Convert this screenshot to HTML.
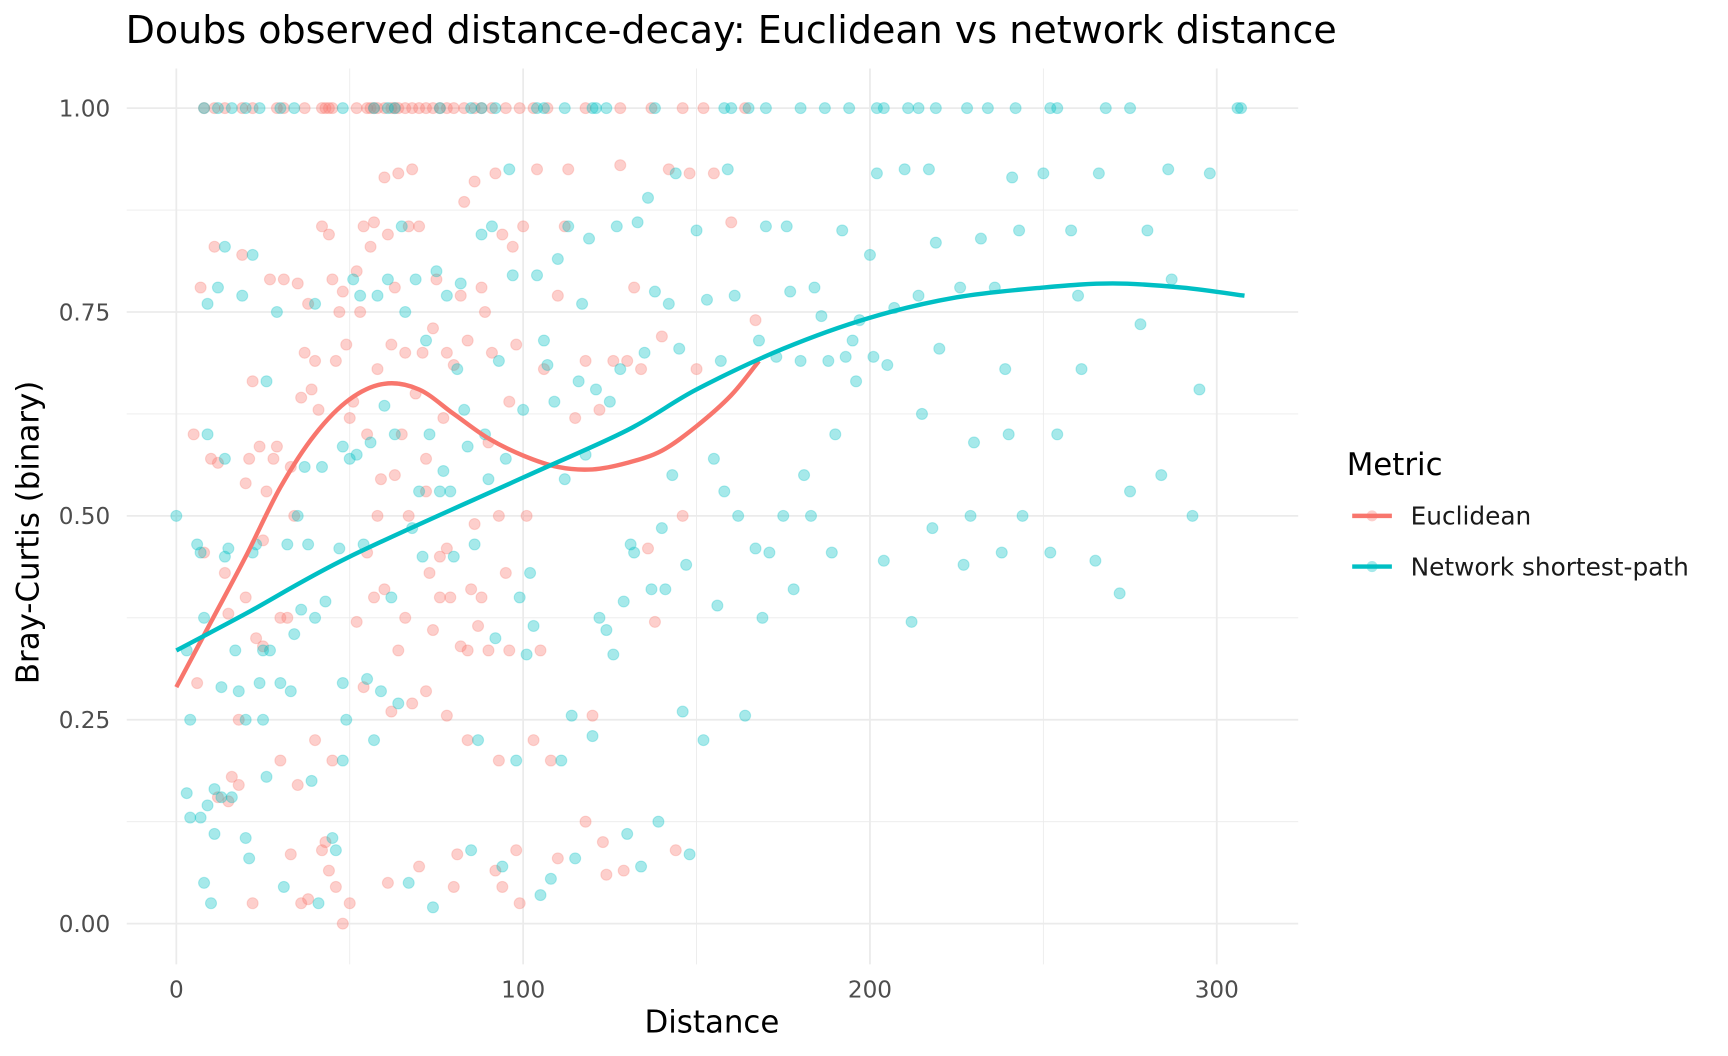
<!DOCTYPE html>
<html><head><meta charset="utf-8"><style>
html,body{margin:0;padding:0;background:#fff;}
svg{display:block;font-family:"DejaVu Sans","Liberation Sans",sans-serif;}
</style></head><body>
<svg id="chart" width="1728" height="1056" viewBox="0 0 1568 958" xmlns="http://www.w3.org/2000/svg">
<rect width="1568" height="958" fill="#fff"/>
<text x="114" y="39" font-size="34.5" fill="#000">Doubs observed distance-decay: Euclidean vs network distance</text>
<g id="grid"></g>
<g id="yticks"></g>
<g id="xticks"></g>
<g id="pts"></g>
<g id="lines"></g>
<text x="646" y="937" font-size="28" text-anchor="middle" fill="#000">Distance</text>
<text transform="translate(35,483) rotate(-90)" font-size="28" text-anchor="middle" fill="#000">Bray-Curtis (binary)</text>
<g>
<text x="1222" y="431" font-size="28" fill="#000">Metric</text>
<g>
<line x1="1227" y1="468" x2="1263" y2="468" stroke="#F8766D" stroke-width="4"/>
<circle cx="1245" cy="468" r="5" fill="#F8766D" opacity="0.35"/>
<text x="1280" y="476" font-size="22.5" fill="#1a1a1a">Euclidean</text></g>
<g>
<line x1="1227" y1="514" x2="1263" y2="514" stroke="#00BFC4" stroke-width="4"/>
<circle cx="1245" cy="514" r="5" fill="#00BFC4" opacity="0.35"/>
<text x="1280" y="522" font-size="22.5" fill="#1a1a1a">Network shortest-path</text></g>
</g>
</svg>
<script>
const xTicks=[0,100,200,300];
const yTicks=[0,0.25,0.5,0.75,1.0];
const yTickLabels=["0.00","0.25","0.50","0.75","1.00"];
const eucOnes=[8,11,14,19,22,29,31,37,42,43,44,45,52,55,56,57,58,60,62,63,64,66,68,70,72,74,76,78,80,83,86,88,91,95,99,103,107,118,128,137,146,152,164];
const netOnes=[8,12,16,20,24,30,34,48,57,61,63,76,85,88,92,104,106,112,120,121,124,138,158,160,165,170,180,187,194,202,204,211,214,219,228,234,242,252,254,268,275,306,307];
const eucPts=[[5,0.6],[7,0.78],[8,0.455],[10,0.57],[11,0.83],[12,0.565],[14,0.43],[15,0.38],[16,0.18],[18,0.25],[19,0.82],[20,0.54],[21,0.57],[22,0.665],[23,0.35],[24,0.585],[25,0.47],[26,0.53],[27,0.79],[28,0.57],[29,0.585],[30,0.2],[31,0.79],[32,0.375],[33,0.56],[34,0.5],[35,0.785],[36,0.645],[37,0.7],[38,0.76],[39,0.655],[40,0.69],[41,0.63],[42,0.855],[43,0.1],[44,0.845],[45,0.79],[46,0.69],[47,0.75],[48,0.775],[49,0.71],[50,0.62],[51,0.64],[52,0.8],[53,0.75],[54,0.855],[55,0.6],[56,0.83],[57,0.86],[58,0.68],[59,0.545],[60,0.915],[61,0.845],[62,0.71],[63,0.78],[64,0.92],[65,0.6],[66,0.7],[67,0.855],[68,0.925],[69,0.65],[70,0.855],[71,0.7],[72,0.57],[73,0.43],[74,0.73],[75,0.79],[76,0.45],[77,0.62],[78,0.7],[79,0.4],[80,0.685],[81,0.085],[82,0.77],[83,0.885],[84,0.715],[85,0.41],[86,0.91],[87,0.365],[88,0.78],[89,0.75],[90,0.59],[91,0.7],[92,0.92],[93,0.2],[94,0.845],[95,0.43],[96,0.64],[97,0.83],[98,0.71],[99,0.025],[100,0.855],[101,0.5],[103,0.225],[104,0.925],[106,0.68],[108,0.2],[110,0.77],[112,0.855],[113,0.925],[115,0.62],[118,0.69],[120,0.255],[122,0.63],[124,0.06],[126,0.69],[128,0.93],[130,0.69],[132,0.78],[134,0.68],[136,0.46],[138,0.37],[140,0.72],[142,0.925],[144,0.09],[146,0.5],[148,0.92],[150,0.68],[155,0.92],[160,0.86],[167,0.74],
[6,0.295],[12,0.155],[15,0.15],[18,0.17],[20,0.4],[22,0.025],[25,0.34],[30,0.375],[33,0.085],[35,0.17],[36,0.025],[38,0.03],[40,0.225],[42,0.09],[44,0.065],[45,0.2],[46,0.045],[48,0.0],[50,0.025],[52,0.37],[54,0.29],[55,0.455],[57,0.4],[60,0.41],[61,0.05],[62,0.26],[64,0.335],[66,0.375],[68,0.27],[70,0.07],[72,0.285],[74,0.36],[76,0.4],[78,0.255],[80,0.045],[82,0.34],[84,0.225],[86,0.49],[88,0.4],[90,0.335],[92,0.065],[94,0.045],[96,0.335],[98,0.09],[58,0.5],[63,0.55],[67,0.5],[72,0.53],[78,0.46],[84,0.335],[93,0.5],[105,0.335],[110,0.08],[118,0.125],[123,0.1],[129,0.065]];
const netPts=[[0,0.5],[3,0.16],[3,0.335],[4,0.13],[4,0.25],[6,0.465],[7,0.13],[7,0.455],[8,0.05],[8,0.375],[9,0.6],[9,0.76],[9,0.145],[10,0.025],[11,0.11],[11,0.165],[12,0.78],[13,0.29],[13,0.155],[14,0.57],[14,0.83],[14,0.45],[15,0.46],[16,0.155],[17,0.335],[18,0.285],[19,0.77],[20,0.105],[20,0.25],[21,0.08],[22,0.455],[22,0.82],[23,0.465],[24,0.295],[25,0.25],[25,0.335],[26,0.18],[26,0.665],[27,0.335],[29,0.75],[30,0.295],[31,0.045],[32,0.465],[33,0.285],[34,0.355],[35,0.5],[36,0.385],[37,0.56],[38,0.465],[39,0.175],[40,0.76],[40,0.375],[41,0.025],[42,0.56],[43,0.395],[45,0.105],[46,0.09],[47,0.46],[48,0.585],[48,0.2],[48,0.295],[49,0.25],[50,0.57],[51,0.79],[52,0.575],[53,0.77],[54,0.465],[55,0.3],[56,0.59],[57,0.225],[58,0.77],[59,0.285],[60,0.635],[61,0.79],[62,0.4],[63,0.6],[64,0.27],[65,0.855],[66,0.75],[67,0.05],[68,0.485],[69,0.79],[70,0.53],[71,0.45],[72,0.715],[73,0.6],[74,0.02],[75,0.8],[76,0.53],[77,0.555],[78,0.77],[79,0.53],[80,0.45],[81,0.68],[82,0.785],[83,0.63],[84,0.585],[85,0.09],[86,0.465],[87,0.225],[88,0.845],[89,0.6],[90,0.545],[91,0.855],[92,0.35],[93,0.69],[94,0.07],[95,0.57],[96,0.925],[97,0.795],[98,0.2],[99,0.4],[100,0.63],[101,0.33],[102,0.43],[103,0.365],[104,0.795],[105,0.035],[106,0.715],[107,0.685],[108,0.055],[109,0.64],[110,0.815],[111,0.2],[112,0.545],[113,0.855],[114,0.255],[115,0.08],[116,0.665],[117,0.76],[118,0.575],[119,0.84],[120,0.23],[121,0.655],[122,0.375],[124,0.36],[125,0.64],[126,0.33],[127,0.855],[128,0.68],[129,0.395],[130,0.11],[131,0.465],[132,0.455],[133,0.86],[134,0.07],[135,0.7],[136,0.89],[137,0.41],[138,0.775],[139,0.125],[140,0.485],[141,0.41],[142,0.76],[143,0.55],[144,0.92],[145,0.705],[146,0.26],[147,0.44],[148,0.085],[150,0.85],[152,0.225],[153,0.765],[155,0.57],[156,0.39],[157,0.69],[158,0.53],[159,0.925],[161,0.77],[162,0.5],[164,0.255],[167,0.46],[168,0.715],[169,0.375],[170,0.855],[171,0.455],[173,0.695],[175,0.5],[176,0.855],[177,0.775],[178,0.41],[180,0.69],[181,0.55],[183,0.5],[184,0.78],[186,0.745],[188,0.69],[189,0.455],[190,0.6],[192,0.85],[193,0.695],[195,0.715],[196,0.665],[197,0.74],[200,0.82],[201,0.695],[202,0.92],[204,0.445],[205,0.685],[207,0.755],[210,0.925],[212,0.37],[214,0.77],[215,0.625],[217,0.925],[218,0.485],[219,0.835],[220,0.705],[226,0.78],[227,0.44],[229,0.5],[230,0.59],[232,0.84],[236,0.78],[238,0.455],[239,0.68],[240,0.6],[241,0.915],[243,0.85],[244,0.5],[250,0.92],[252,0.455],[254,0.6],[258,0.85],[260,0.77],[261,0.68],[265,0.445],[266,0.92],[272,0.405],[275,0.53],[278,0.735],[280,0.85],[284,0.55],[286,0.925],[287,0.79],[293,0.5],[295,0.655],[298,0.92]];
const eucCurveX=[0,10,20,30,40,50,60,70,80,90,100,110,120,130,140,150,160,168];
const eucCurveY=[0.29,0.37,0.45,0.535,0.6,0.643,0.662,0.655,0.625,0.595,0.574,0.56,0.557,0.565,0.58,0.61,0.648,0.69];
const netCurveX=[0,20,50,100,130,150,175,200,225,250,270,290,308];
const netCurveY=[0.335,0.38,0.45,0.547,0.605,0.655,0.705,0.743,0.768,0.78,0.785,0.78,0.77];

const NS="http://www.w3.org/2000/svg";
const X0=160,XK=3.147,Y0=838,YK=740;
function xs(d){return X0+d*XK;}
function ys(v){return Y0-v*YK;}
function mk(tag,attrs,parent){const e=document.createElementNS(NS,tag);for(const k in attrs)e.setAttribute(k,attrs[k]);parent.appendChild(e);return e;}
const grid=document.getElementById('grid');
mk('rect',{x:115,y:62,width:1063,height:813,fill:'#fff'},grid);
[50,150,250].forEach(d=>{const l=mk('line',{x1:xs(d),x2:xs(d),y1:62,y2:875,stroke:'#ebebeb','stroke-width':0.8},grid);

});
[0.125,0.375,0.625,0.875].forEach(v=>{const l=mk('line',{x1:115,x2:1178,y1:ys(v),y2:ys(v),stroke:'#ebebeb','stroke-width':0.8},grid);

});
const xt=document.getElementById('xticks');
xTicks.forEach(d=>{const l=mk('line',{x1:xs(d),x2:xs(d),y1:62,y2:875,stroke:'#ebebeb','stroke-width':1.6},grid);


const t=mk('text',{x:xs(d),y:905,'font-size':21,'text-anchor':'middle',fill:'#4d4d4d'},xt);t.textContent=d;

});
const yt=document.getElementById('yticks');
yTicks.forEach((v,i)=>{const l=mk('line',{x1:115,x2:1178,y1:ys(v),y2:ys(v),stroke:'#ebebeb','stroke-width':1.6},grid);


const t=mk('text',{x:100,y:ys(v)+7.5,'font-size':21,'text-anchor':'end',fill:'#4d4d4d'},yt);t.textContent=yTickLabels[i];

});
const pts=document.getElementById('pts');
function dot(d,v,c,name){const e=mk('circle',{cx:xs(d),cy:ys(v),r:5,fill:c,'fill-opacity':0.35,stroke:c,'stroke-opacity':0.25,'stroke-width':1},pts);

}
eucOnes.forEach(d=>dot(d,1,'#F8766D','euclidean-point'));
eucPts.forEach(p=>dot(p[0],p[1],'#F8766D','euclidean-point'));
netOnes.forEach(d=>dot(d,1,'#00BFC4','network-point'));
netPts.forEach(p=>dot(p[0],p[1],'#00BFC4','network-point'));
function spline(X,Y){const P=X.map((x,i)=>[xs(x),ys(Y[i])]);let s='M'+P[0][0]+','+P[0][1];
for(let i=0;i<P.length-1;i++){const p0=P[Math.max(0,i-1)],p1=P[i],p2=P[i+1],p3=P[Math.min(P.length-1,i+2)];
const c1=[p1[0]+(p2[0]-p0[0])/6,p1[1]+(p2[1]-p0[1])/6],c2=[p2[0]-(p3[0]-p1[0])/6,p2[1]-(p3[1]-p1[1])/6];
s+=' C'+c1+' '+c2+' '+p2;}return s;}
const lines=document.getElementById('lines');
const l1=mk('path',{d:spline(eucCurveX,eucCurveY),fill:'none',stroke:'#F8766D','stroke-width':4},lines);


const l2=mk('path',{d:spline(netCurveX,netCurveY),fill:'none',stroke:'#00BFC4','stroke-width':4},lines);


</script>
</body></html>
